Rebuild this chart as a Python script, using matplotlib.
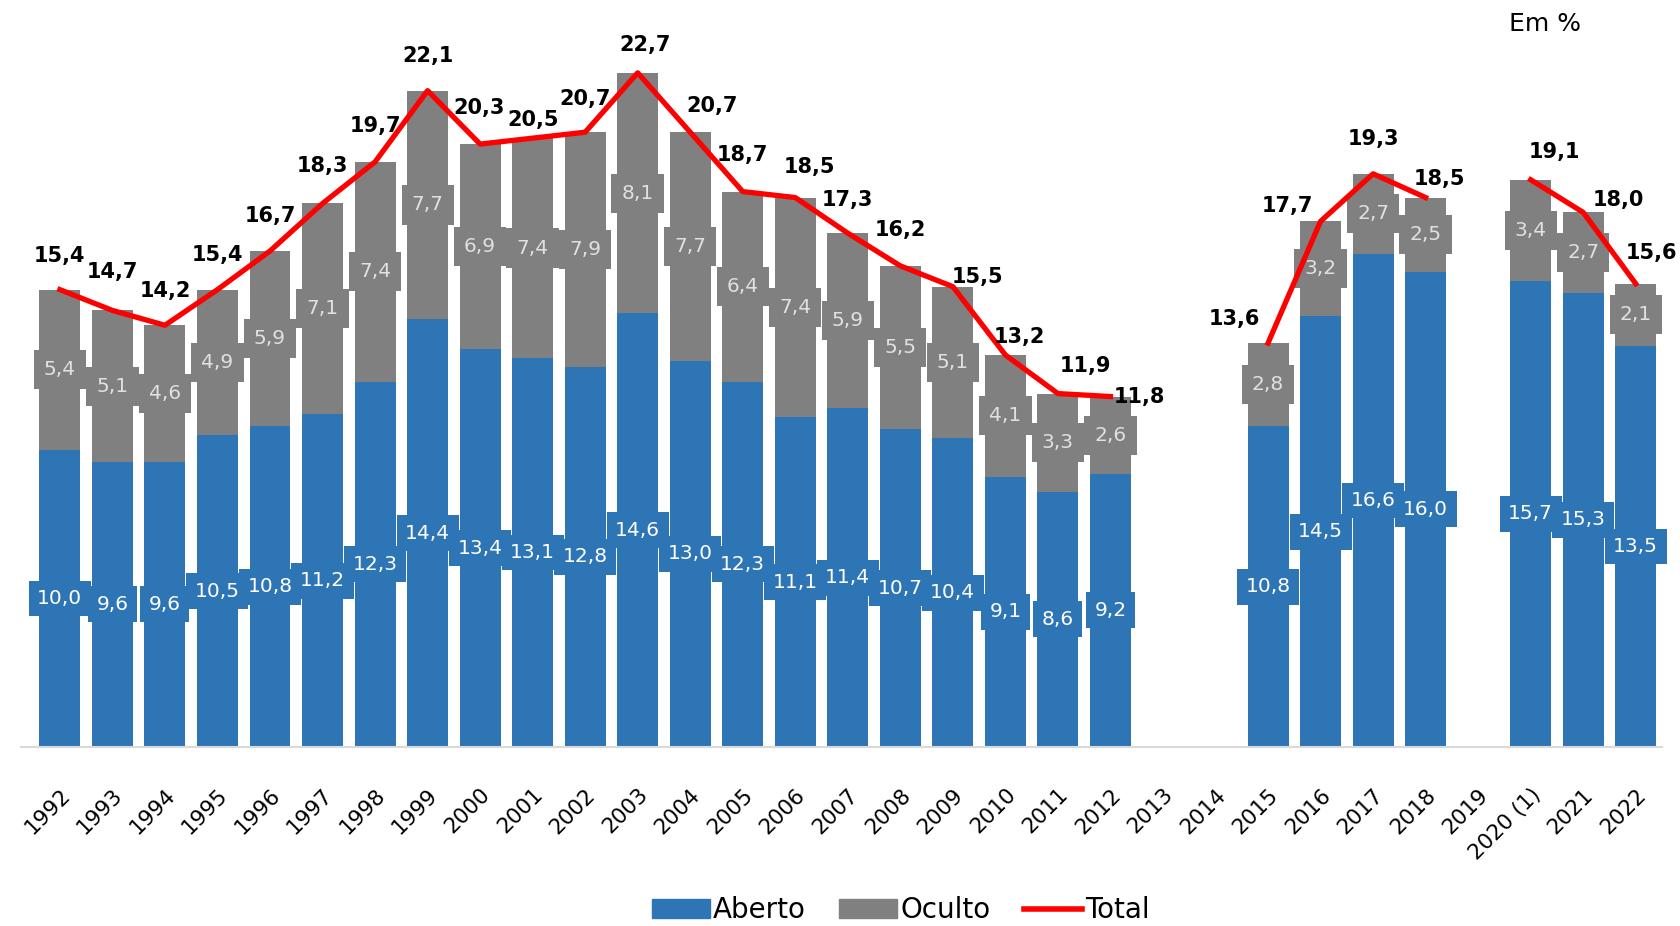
import numpy as np
import matplotlib
matplotlib.use("Agg")
import matplotlib.pyplot as plt
from matplotlib.patches import Patch
from matplotlib.lines import Line2D

years = ['1992', '1993', '1994', '1995', '1996', '1997', '1998', '1999', '2000', '2001',
         '2002', '2003', '2004', '2005', '2006', '2007', '2008', '2009', '2010', '2011',
         '2012', '2013', '2014', '2015', '2016', '2017', '2018', '2019', '2020 (1)', '2021', '2022']
aberto = [10.0, 9.6, 9.6, 10.5, 10.8, 11.2, 12.3, 14.4, 13.4, 13.1,
          12.8, 14.6, 13.0, 12.3, 11.1, 11.4, 10.7, 10.4, 9.1, 8.6,
          9.2, np.nan, np.nan, 10.8, 14.5, 16.6, 16.0, np.nan, 15.7, 15.3, 13.5]
oculto = [5.4, 5.1, 4.6, 4.9, 5.9, 7.1, 7.4, 7.7, 6.9, 7.4,
          7.9, 8.1, 7.7, 6.4, 7.4, 5.9, 5.5, 5.1, 4.1, 3.3,
          2.6, np.nan, np.nan, 2.8, 3.2, 2.7, 2.5, np.nan, 3.4, 2.7, 2.1]
total = [15.4, 14.7, 14.2, 15.4, 16.7, 18.3, 19.7, 22.1, 20.3, 20.5,
         20.7, 22.7, 20.7, 18.7, 18.5, 17.3, 16.2, 15.5, 13.2, 11.9,
         11.8, np.nan, np.nan, 13.6, 17.7, 19.3, 18.5, np.nan, 19.1, 18.0, 15.6]

# label offsets (points) for the Total labels, as placed in the original
tot_off = [(0, 24), (0, 28), (0, 25), (0, 25), (0, 25), (0, 27), (0, 26), (0, 25), (-1, 26), (0, 13),
           (0, 24), (5, 20), (16, 19), (0, 26), (10, 22), (0, 24), (0, 26), (18, 7), (10, 13), (20, 20),
           (21, 0), (0, 0), (0, 0), (-24, 17), (-24, 11), (0, 25), (10, 13), (0, 0), (17, 20), (25, 9), (11, 22)]

BLUE = '#2E75B6'
GRAY = '#808080'
RED = '#FF0000'

plt.rcParams['font.family'] = ['DejaVu Sans']

fig = plt.figure(figsize=(16.8, 9.26), dpi=100)
ax = fig.add_axes([21 / 1680, 1 - 747 / 926, (1662 - 21) / 1680, 742.5 / 926])

x = np.arange(len(years))
ab = np.array(aberto)
oc = np.array(oculto)
tt = np.array(total)

ax.bar(x, ab, width=0.78, color=BLUE, label='Aberto', zorder=2)
ax.bar(x, oc, width=0.78, bottom=ab, color=GRAY, label='Oculto', zorder=2)
ax.plot(x, tt, color=RED, lw=3.8, solid_joinstyle='round', zorder=4)

for i in x:
    if np.isnan(ab[i]):
        continue
    ax.text(i, ab[i] / 2, f"{ab[i]:.1f}".replace('.', ','), ha='center', va='center',
            fontsize=14.5, color='white', zorder=3,
            bbox=dict(boxstyle='square,pad=0.42', fc=BLUE, ec='none'))
    ax.text(i, ab[i] + oc[i] / 2, f"{oc[i]:.1f}".replace('.', ','), ha='center', va='center',
            fontsize=14.5, color='#E0E0E0', zorder=3,
            bbox=dict(boxstyle='square,pad=0.5', fc=GRAY, ec='none'))
    dx, dy = tot_off[i]
    ax.annotate(f"{tt[i]:.1f}".replace('.', ','), (i, tt[i]), xytext=(dx, dy),
                textcoords='offset points', ha='center', va='center',
                fontsize=15, fontweight='bold', color='black', zorder=5)

ax.set_xlim(-0.74, 30.5)
ax.set_ylim(0, 25)
ax.set_xticks(x)
ax.set_xticklabels(years, rotation=45, ha='right', rotation_mode='anchor', fontsize=15.5)
ax.tick_params(axis='x', length=0, pad=27)
ax.set_yticks([])
for s in ['top', 'right', 'left']:
    ax.spines[s].set_visible(False)
ax.spines['bottom'].set_color('#D9D9D9')
ax.spines['bottom'].set_linewidth(1.5)

fig.text(1545 / 1680, 1 - 24 / 926, 'Em %', ha='center', va='center', fontsize=18)

handles = [Patch(color=BLUE, label='Aberto'), Patch(color=GRAY, label='Oculto'),
           Line2D([0], [0], color=RED, lw=4, label='Total')]
fig.legend(handles=handles, loc='center', bbox_to_anchor=(0.536, 0.017), ncol=3, frameon=False,
           fontsize=20, handlelength=2.1, handletextpad=0.1, columnspacing=1.2)

fig.savefig('out.png', dpi=100)
